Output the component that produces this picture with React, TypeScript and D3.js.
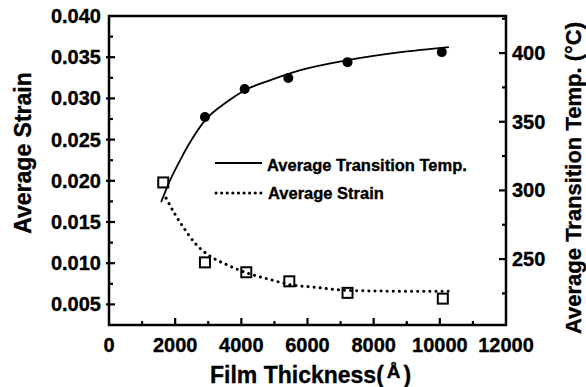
import { useRef, useEffect } from 'react';
import * as d3 from 'd3';

// film thickness (Å) of the measured samples
const tempThickness = [2900, 4100, 5420, 7210, 10060];
const tempValues = [353.4, 373.8, 381.8, 393.4, 400.7];

const strainThickness = [1640, 2900, 4150, 5450, 7210, 10090];
const strainValues = [0.0198, 0.0101, 0.0089, 0.0078, 0.0064, 0.0057];

// fitted curves
const tempFitX = [1576, 1848, 2152, 2455, 2909, 3515, 4121, 4879, 5788, 7212, 8818, 10273];
const tempFitY = [291.5, 307.5, 322.1, 335.2, 351.2, 363.6, 373.1, 380.3, 387.6, 394.9, 400.7, 404.4];

const strainFitX = [1727, 2000, 2242, 2606, 3000, 3515, 4182, 4879, 5455, 6182, 7212, 8818, 10333];
const strainFitY = [0.0179, 0.0159, 0.0144, 0.0124, 0.011, 0.0099, 0.0088, 0.008, 0.0074, 0.0071, 0.0067, 0.0066, 0.0066];

const xTicks = [0, 2000, 4000, 6000, 8000, 10000, 12000];
const strainTicks = [0.005, 0.01, 0.015, 0.02, 0.025, 0.03, 0.035, 0.04];
const tempTicks = [250, 300, 350, 400];

const FONT = '"Liberation Sans", Arial, sans-serif';

const App = () => {
  const svgRef = useRef(null);

  useEffect(() => {
    const svg = d3.select(svgRef.current);
    svg.selectAll('*').remove();

    const left = 109, right = 506, top = 16, bottom = 325;

    const x = d3.scaleLinear().domain([0, 12000]).range([left, right]);
    const yL = d3.scaleLinear().domain([0.0025, 0.040]).range([bottom, top]);
    const yR = d3.scaleLinear().domain([202, 427]).range([bottom, top]);

    // frame
    svg.append('rect')
      .attr('x', left).attr('y', top)
      .attr('width', right - left).attr('height', bottom - top)
      .attr('fill', 'none').attr('stroke', '#000').attr('stroke-width', 2.5);

    const g = svg.append('g').attr('stroke', '#000').attr('stroke-width', 2.2);

    // bottom ticks
    d3.range(1000, 12000, 1000).forEach((v) => {
      const major = v % 2000 === 0;
      g.append('line')
        .attr('x1', x(v)).attr('x2', x(v))
        .attr('y1', bottom).attr('y2', bottom - (major ? 7 : 4));
    });
    // left ticks
    d3.range(0.005, 0.0399, 0.0025).forEach((v, i) => {
      const major = i % 2 === 0;
      g.append('line')
        .attr('x1', left - (major ? 3 : 0)).attr('x2', left + (major ? 6 : 4))
        .attr('y1', yL(v)).attr('y2', yL(v));
    });
    // right ticks
    d3.range(225, 426, 25).forEach((v) => {
      const major = v % 50 === 0;
      g.append('line')
        .attr('x1', right).attr('x2', right - (major ? 7 : 4))
        .attr('y1', yR(v)).attr('y2', yR(v));
    });

    const txt = svg.append('g')
      .attr('font-family', FONT).attr('font-weight', 'bold').attr('fill', '#000')
      .attr('stroke', '#000').attr('stroke-width', 0.35);

    txt.selectAll('.xt').data(xTicks).join('text')
      .attr('x', (d) => x(d)).attr('y', 352)
      .attr('text-anchor', 'middle').attr('font-size', 20)
      .text((d) => d);

    txt.selectAll('.yl').data(strainTicks).join('text')
      .attr('x', 101).attr('y', (d) => yL(d) + 7)
      .attr('text-anchor', 'end').attr('font-size', 20)
      .text((d) => d3.format('.3f')(d));

    txt.selectAll('.yr').data(tempTicks).join('text')
      .attr('x', 512).attr('y', (d) => yR(d) + 7)
      .attr('text-anchor', 'start').attr('font-size', 20)
      .text((d) => d);

    // axis titles
    const xt = txt.append('text').attr('x', 210).attr('y', 383).attr('font-size', 23);
    xt.append('tspan').text('Film Thickness(');
    xt.append('tspan').attr('font-size', 19).attr('dy', -5).attr('dx', 3).text('Å');
    xt.append('tspan').attr('dy', 5).attr('dx', 3).text(')');

    txt.append('text')
      .attr('transform', 'translate(31,153) rotate(-90)')
      .attr('text-anchor', 'middle').attr('font-size', 23)
      .text('Average Strain');

    txt.append('text')
      .attr('transform', 'translate(581,178) rotate(-90)')
      .attr('text-anchor', 'middle').attr('font-size', 22)
      .text('Average Transition Temp. (°C)');

    // fitted curves
    const tempLine = d3.line<number>()
      .x((_, i) => x(tempFitX[i])).y((d) => yR(d))
      .curve(d3.curveMonotoneX);
    svg.append('path').attr('d', tempLine(tempFitY))
      .attr('fill', 'none').attr('stroke', '#000').attr('stroke-width', 1.8);

    const strainLine = d3.line<number>()
      .x((_, i) => x(strainFitX[i])).y((d) => yL(d))
      .curve(d3.curveMonotoneX);
    svg.append('path').attr('d', strainLine(strainFitY))
      .attr('fill', 'none').attr('stroke', '#000').attr('stroke-width', 3)
      .attr('stroke-linecap', 'round').attr('stroke-dasharray', '0.1 6');

    // markers
    svg.selectAll('.dot').data(tempValues).join('circle')
      .attr('cx', (_, i) => x(tempThickness[i])).attr('cy', (d) => yR(d))
      .attr('r', 5).attr('fill', '#000');

    svg.selectAll('.sq').data(strainValues).join('rect')
      .attr('x', (_, i) => x(strainThickness[i]) - 5).attr('y', (d) => yL(d) - 5)
      .attr('width', 10).attr('height', 10)
      .attr('fill', 'none').attr('stroke', '#000').attr('stroke-width', 2);

    // legend
    svg.append('line').attr('x1', 215).attr('x2', 262).attr('y1', 163).attr('y2', 163)
      .attr('stroke', '#000').attr('stroke-width', 2);
    svg.append('line').attr('x1', 216).attr('x2', 262).attr('y1', 193).attr('y2', 193)
      .attr('stroke', '#000').attr('stroke-width', 3)
      .attr('stroke-linecap', 'round').attr('stroke-dasharray', '0.1 5.5');
    txt.append('text').attr('x', 267).attr('y', 171).attr('font-size', 16.5)
      .text('Average Transition Temp.');
    txt.append('text').attr('x', 268).attr('y', 199).attr('font-size', 16.5)
      .text('Average Strain');
  }, []);

  return (
    <svg ref={svgRef} width={586} height={387}
      style={{ position: 'absolute', left: 0, top: 0, background: '#fff' }} />
  );
};

export default App;
